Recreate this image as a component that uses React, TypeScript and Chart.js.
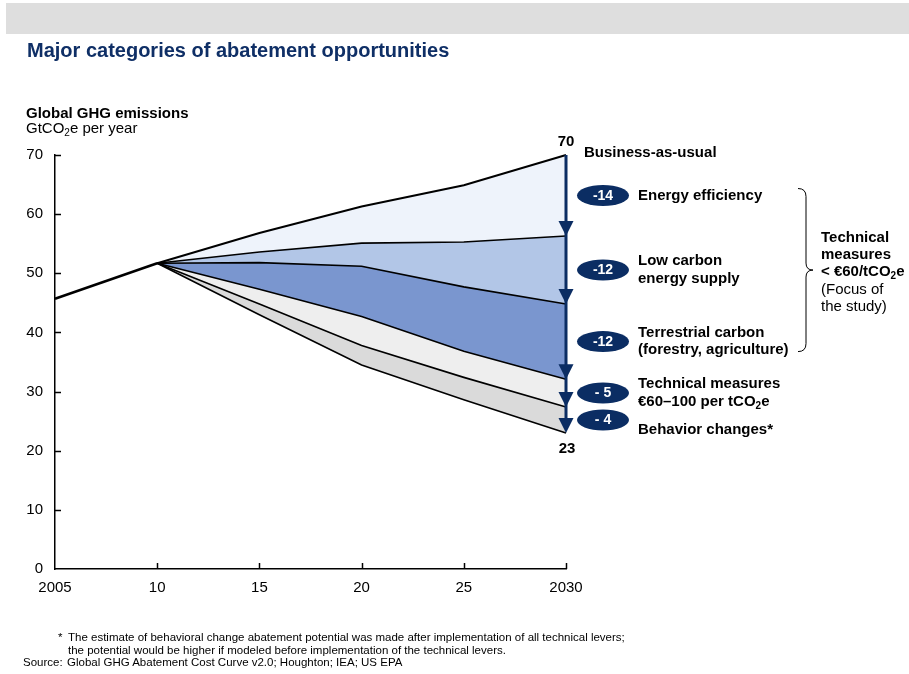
import React, { useEffect, useRef } from "react";
import { Chart, registerables } from "chart.js";

Chart.register(...registerables);

// ---- data ----
const xTickValues = [2005, 2010, 2015, 2020, 2025, 2030];
const xTickLabels = ["2005", "10", "15", "20", "25", "2030"];
const yTickValues = [0, 10, 20, 30, 40, 50, 60, 70];

const historyYears = [2005, 2010];
const historyValues = [45.7, 51.7];

const projectionYears = [2010, 2015, 2020, 2025, 2030];
const businessAsUsual = [51.7, 56.8, 61.3, 64.9, 70];
const afterEnergyEfficiency = [51.7, 53.6, 55.1, 55.3, 56.3];
const afterLowCarbonSupply = [51.7, 51.8, 51.2, 47.7, 44.8];
const afterTerrestrialCarbon = [51.7, 47.3, 42.7, 36.8, 32.1];
const afterTechnicalMeasures = [51.7, 44.8, 37.8, 32.4, 27.4];
const afterBehaviorChanges = [51.7, 43.0, 34.5, 28.6, 23];

const abatementValues = ["-14", "-12", "-12", "- 5", "- 4"];
const categoryLabels = [
  ["Energy efficiency"],
  ["Low carbon", "energy supply"],
  ["Terrestrial carbon", "(forestry, agriculture)"],
  ["Technical measures", "€60–100 per tCO₂e"],
  ["Behavior changes*"],
];
const topLabel = "Business-as-usual";
const bracketLabelsBold = ["Technical", "measures", "< €60/tCO₂e"];
const bracketLabelsNormal = ["(Focus of", "the study)"];

const bandColors = ["#eef3fb", "#b2c6e7", "#7a96cf", "#eeeeee", "#dadada"];
const NAVY = "#0b2d63";
const FONT = '"Liberation Sans", Arial, Helvetica, sans-serif';

function drawRich(ctx: CanvasRenderingContext2D, text: string, x: number, y: number, size: number, weight: string, align: "left" | "center" = "left") {
  const parts = text.split("₂");
  const big = `${weight} ${size}px ${FONT}`;
  const small = `${weight} ${Math.round(size * 0.65)}px ${FONT}`;
  // measure total
  let total = 0;
  parts.forEach((p, i) => {
    ctx.font = big;
    total += ctx.measureText(p).width;
    if (i < parts.length - 1) {
      ctx.font = small;
      total += ctx.measureText("2").width;
    }
  });
  let cx = align === "center" ? x - total / 2 : x;
  ctx.textAlign = "left";
  ctx.textBaseline = "middle";
  parts.forEach((p, i) => {
    ctx.font = big;
    ctx.fillText(p, cx, y);
    cx += ctx.measureText(p).width;
    if (i < parts.length - 1) {
      ctx.font = small;
      ctx.fillText("2", cx, y + size * 0.3);
      cx += ctx.measureText("2").width;
    }
  });
}

const abatementPlugin = {
  id: "abatementAnnotations",
  afterDatasetsDraw(chart: any) {
    const { ctx, scales } = chart;
    const x = scales.x;
    const y = scales.y;
    const px = x.getPixelForValue(2030);
    const levels = [
      businessAsUsual[businessAsUsual.length - 1],
      afterEnergyEfficiency[afterEnergyEfficiency.length - 1],
      afterLowCarbonSupply[afterLowCarbonSupply.length - 1],
      afterTerrestrialCarbon[afterTerrestrialCarbon.length - 1],
      afterTechnicalMeasures[afterTechnicalMeasures.length - 1],
      afterBehaviorChanges[afterBehaviorChanges.length - 1],
    ];
    const ly = levels.map((v) => y.getPixelForValue(v));

    ctx.save();
    // axis inner ticks
    ctx.strokeStyle = "#000";
    ctx.lineWidth = 1.5;
    yTickValues.forEach((v) => {
      if (v === 0) return;
      const yy = Math.round(y.getPixelForValue(v)) + 0.5;
      ctx.beginPath();
      ctx.moveTo(x.left, yy);
      ctx.lineTo(x.left + 6, yy);
      ctx.stroke();
    });
    xTickValues.forEach((v) => {
      if (v === 2005) return;
      const xx = Math.round(x.getPixelForValue(v)) + 0.5;
      ctx.beginPath();
      ctx.moveTo(xx, y.bottom);
      ctx.lineTo(xx, y.bottom - 6);
      ctx.stroke();
    });

    // arrow shaft
    ctx.strokeStyle = NAVY;
    ctx.fillStyle = NAVY;
    ctx.lineWidth = 3;
    ctx.beginPath();
    ctx.moveTo(px, ly[0]);
    ctx.lineTo(px, ly[5] - 4);
    ctx.stroke();
    // arrowheads
    for (let i = 1; i < ly.length; i++) {
      ctx.beginPath();
      ctx.moveTo(px - 7.5, ly[i] - 15);
      ctx.lineTo(px + 7.5, ly[i] - 15);
      ctx.lineTo(px, ly[i]);
      ctx.closePath();
      ctx.fill();
    }

    // badges + labels
    const mids: number[] = [];
    for (let i = 0; i < 5; i++) {
      const mid = (ly[i] + ly[i + 1]) / 2;
      mids.push(mid);
      ctx.fillStyle = NAVY;
      ctx.beginPath();
      ctx.ellipse(px + 37, mid, 26, 10.5, 0, 0, Math.PI * 2);
      ctx.fill();
      ctx.fillStyle = "#fff";
      drawRich(ctx, abatementValues[i], px + 37, mid + 0.5, 14, "bold", "center");

      ctx.fillStyle = "#000";
      const lines = categoryLabels[i];
      const lh = 17.5;
      const base = i === 4 ? mid + 10 : mid - ((lines.length - 1) * lh) / 2;
      lines.forEach((t, k) => drawRich(ctx, t, px + 72, base + k * lh, 15, "bold"));
    }

    // totals
    ctx.fillStyle = "#000";
    drawRich(ctx, String(levels[0]), px, ly[0] - 13, 15, "bold", "center");
    drawRich(ctx, String(levels[5]), px + 1, ly[5] + 16, 15, "bold", "center");
    drawRich(ctx, topLabel, px + 18, ly[0] - 2, 15, "bold");

    // brace
    const bx = px + 240;
    const top = mids[0] - 7;
    const bot = mids[2] + 10;
    const cy = (top + bot) / 2;
    ctx.strokeStyle = "#000";
    ctx.lineWidth = 1;
    ctx.beginPath();
    ctx.moveTo(bx - 8, top);
    ctx.quadraticCurveTo(bx, top, bx, top + 8);
    ctx.lineTo(bx, cy - 7);
    ctx.quadraticCurveTo(bx, cy, bx + 7, cy);
    ctx.quadraticCurveTo(bx, cy, bx, cy + 7);
    ctx.lineTo(bx, bot - 8);
    ctx.quadraticCurveTo(bx, bot, bx - 8, bot);
    ctx.stroke();

    const tx = bx + 15;
    const lh2 = 17;
    bracketLabelsBold.forEach((t, k) => drawRich(ctx, t, tx, cy - 32 + k * lh2, 15, "bold"));
    bracketLabelsNormal.forEach((t, k) => drawRich(ctx, t, tx, cy - 32 + (k + 3) * lh2 + 1, 15, "normal"));

    ctx.restore();
  },
};

function toPoints(xs: number[], ys: number[]) {
  return xs.map((v, i) => ({ x: v, y: ys[i] }));
}

export default function App() {
  const canvasRef = useRef<HTMLCanvasElement | null>(null);

  useEffect(() => {
    if (!canvasRef.current) return;
    const series = [businessAsUsual, afterEnergyEfficiency, afterLowCarbonSupply, afterTerrestrialCarbon, afterTechnicalMeasures, afterBehaviorChanges];
    const datasets: any[] = [
      {
        data: toPoints(historyYears, historyValues),
        borderColor: "#000",
        borderWidth: 2.5,
        pointRadius: 0,
        fill: false,
        tension: 0,
        clip: 6,
      },
      ...series.map((s, i) => ({
        data: toPoints(projectionYears, s),
        borderColor: "#000",
        borderWidth: i === 0 ? 2 : 1.6,
        pointRadius: 0,
        tension: 0,
        fill: i < 5 ? "+1" : false,
        backgroundColor: i < 5 ? bandColors[i] : "transparent",
        clip: 6,
      })),
    ];

    const chart = new Chart(canvasRef.current, {
      type: "line",
      data: { datasets },
      options: {
        animation: false,
        responsive: false,
        devicePixelRatio: 1,
        layout: { padding: { left: 0, top: 155, right: 343, bottom: 0 } },
        plugins: {
          legend: { display: false },
          tooltip: { enabled: false },
          filler: { drawTime: "beforeDatasetsDraw", propagate: false },
        } as any,
        scales: {
          x: {
            type: "linear",
            min: 2005,
            max: 2030,
            afterFit: (s: any) => {
              s.height = 105;
            },
            afterBuildTicks: (s: any) => {
              s.ticks = xTickValues.map((v) => ({ value: v }));
            },
            ticks: {
              autoSkip: false,
              maxRotation: 0,
              padding: 10,
              color: "#000",
              font: { family: FONT, size: 15 },
              callback: (v: any) => {
                const idx = xTickValues.indexOf(Number(v));
                return idx >= 0 ? xTickLabels[idx] : "";
              },
            },
            grid: { display: false, drawTicks: false },
            border: { display: true, color: "#000", width: 1.5 },
          },
          y: {
            min: 0,
            max: 70,
            afterFit: (s: any) => {
              s.width = 55;
            },
            afterBuildTicks: (s: any) => {
              s.ticks = yTickValues.map((v) => ({ value: v }));
            },
            ticks: {
              padding: 12,
              color: "#000",
              font: { family: FONT, size: 15 },
              callback: (v: any) => String(v),
            },
            grid: { display: false, drawTicks: false },
            border: { display: true, color: "#000", width: 1.5 },
          },
        },
      } as any,
      plugins: [abatementPlugin],
    });
    return () => chart.destroy();
  }, []);

  const abs = (o: React.CSSProperties): React.CSSProperties => ({ position: "absolute", margin: 0, whiteSpace: "nowrap", fontFamily: FONT, ...o });

  return (
    <div style={{ position: "absolute", left: 0, top: 0, width: 909, height: 674, overflow: "hidden", background: "#fff" }}>
      <canvas ref={canvasRef} width={909} height={674} style={{ position: "absolute", left: 0, top: 0, width: 909, height: 674 }} />
      <div style={abs({ left: 6, top: 3, width: 903, height: 31, background: "#dedede" })} />
      <div style={abs({ left: 27, top: 40, fontSize: 20, lineHeight: "20px", fontWeight: "bold", color: "#0f2f66" })}>
        Major categories of abatement opportunities
      </div>
      <div style={abs({ left: 26, top: 105, fontSize: 15, lineHeight: "15px", color: "#000" })}>
        <div style={{ fontWeight: "bold" }}>Global GHG emissions</div>
        <div>
          GtCO<sub style={{ fontSize: 10, lineHeight: 0, verticalAlign: "-3px" }}>2</sub>e per year
        </div>
      </div>
      <div style={abs({ left: 58, top: 631, fontSize: 11.5, lineHeight: "12.5px", color: "#000" })}>*</div>
      <div style={abs({ left: 68, top: 631, fontSize: 11.5, lineHeight: "12.5px", color: "#000" })}>
        <div>The estimate of behavioral change abatement potential was made after implementation of all technical levers;</div>
        <div>the potential would be higher if modeled before implementation of the technical levers.</div>
      </div>
      <div style={abs({ left: 23, top: 656, fontSize: 11.5, lineHeight: "12.5px", color: "#000" })}>Source:</div>
      <div style={abs({ left: 67, top: 656, fontSize: 11.5, lineHeight: "12.5px", color: "#000" })}>
        Global GHG Abatement Cost Curve v2.0; Houghton; IEA; US EPA
      </div>
    </div>
  );
}
